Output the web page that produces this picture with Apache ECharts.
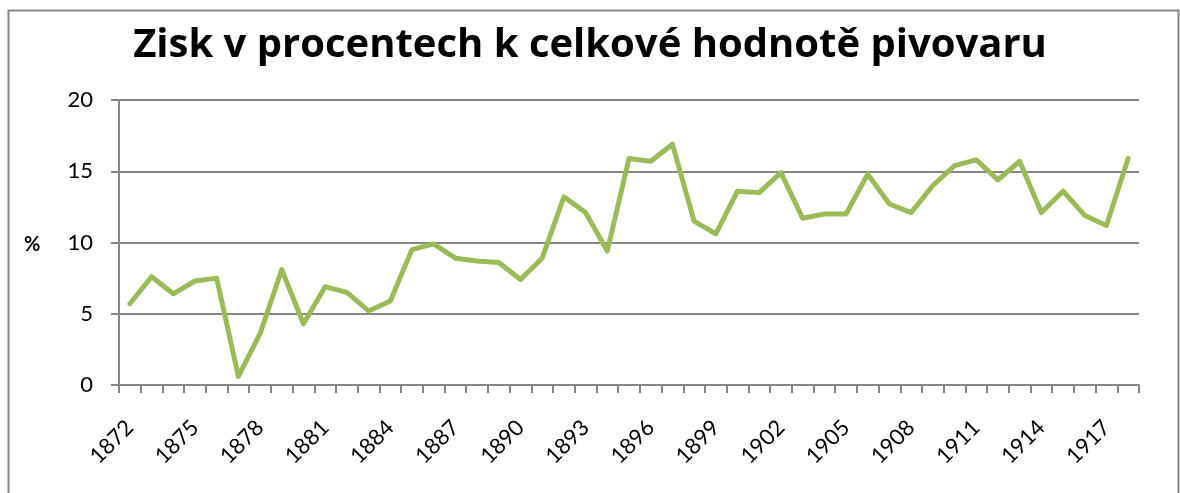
<!DOCTYPE html>
<html>
<head>
<meta charset="utf-8">
<script src="https://cdn.jsdelivr.net/npm/echarts@6/dist/echarts.min.js"></script>
<style>
  html, body { margin: 0; padding: 0; background: #fff; }
  #chart { width: 1180px; height: 493px; }
</style>
</head>
<body>
<div id="chart"></div>
<script>
// roky 1872-1918
var years = [];
for (var y = 1872; y <= 1918; y++) years.push(String(y));

// zisk v % k celkové hodnotě pivovaru
var profit = [
  5.7, 7.6, 6.4, 7.3, 7.5, 0.6, 3.6, 8.1, 4.3, 6.9,
  6.5, 5.2, 5.9, 9.5, 9.9, 8.9, 8.7, 8.6, 7.4, 8.9,
  13.2, 12.1, 9.4, 15.9, 15.7, 16.9, 11.5, 10.6, 13.6, 13.5,
  14.9, 11.7, 12.0, 12.0, 14.8, 12.7, 12.1, 14.0, 15.4, 15.8,
  14.4, 15.7, 12.1, 13.6, 11.9, 11.2, 15.9
];

var yTicks = [0, 5, 10, 15, 20];

var chart = echarts.init(document.getElementById('chart'));
var grey = '#868686';

var option = {
  animation: false,
  backgroundColor: '#fff',
  textStyle: { fontFamily: 'Lato' },
  title: {
    text: 'Zisk v procentech k celkové hodnotě pivovaru',
    left: 'center',
    top: 21,
    textStyle: { fontFamily: 'Open Sans', fontSize: 40, fontWeight: 'bold', color: '#000' }
  },
  graphic: [
    {
      type: 'polyline',
      shape: { points: [[8.5, 520], [8.5, 10.5], [1178.5, 10.5], [1178.5, 520]] },
      style: { stroke: grey, lineWidth: 2, fill: null }
    },
    {
      type: 'text',
      left: 24,
      top: 235,
      style: { text: '%', font: 'bold 20px Lato', fill: '#000' }
    }
  ],
  grid: { left: 119, right: 41, top: 100, bottom: 108 },
  xAxis: {
    type: 'category',
    data: years,
    boundaryGap: true,
    axisLine: { lineStyle: { color: grey, width: 2 } },
    axisTick: { show: true, interval: 0, length: 8, lineStyle: { color: grey, width: 2 } },
    axisLabel: {
      interval: 2,
      rotate: 45,
      margin: 39,
      fontSize: 22,
      fontFamily: 'Lato',
      color: '#000'
    }
  },
  yAxis: {
    type: 'value',
    min: yTicks[0],
    max: yTicks[yTicks.length - 1],
    interval: 5,
    axisLine: { show: true, lineStyle: { color: grey, width: 2 } },
    axisTick: { show: true, length: 8, lineStyle: { color: grey, width: 2 } },
    axisLabel: { fontSize: 22, fontFamily: 'Lato', color: '#000', margin: 26 },
    splitLine: { lineStyle: { color: grey, width: 2 } }
  },
  series: [{
    type: 'line',
    data: profit,
    symbol: 'none',
    lineStyle: { color: '#9BBB59', width: 5, join: 'round', cap: 'round' }
  }]
};

chart.setOption(option);
</script>
</body>
</html>
